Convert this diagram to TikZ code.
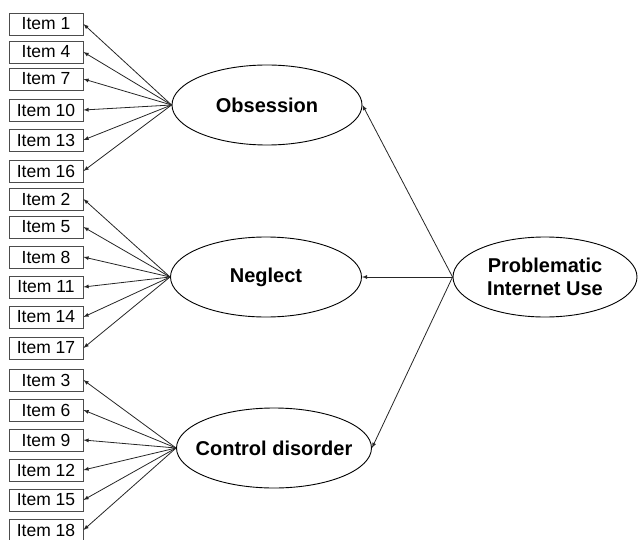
\documentclass[tikz,border=0pt]{standalone}
\usepackage{fontspec}
\setmainfont{Liberation Sans}
\usetikzlibrary{shapes.geometric}
\tikzset{>=latex}
\tikzset{
  item/.style={draw=black!70,line width=0.9pt,minimum width=74pt,minimum height=22pt,inner sep=0pt,font=\fontsize{17.5}{20}\selectfont},
  factor/.style={draw,ellipse,line width=0.9pt,minimum height=80pt,inner sep=0pt},
  flabel/.style={font=\fontsize{20}{23}\selectfont\bfseries,align=center,inner sep=0pt},
  load/.style={->,line width=0.8pt,black!85}
}

\begin{document}
\begin{tikzpicture}[x=1pt,y=-1pt]
            \draw[draw=none,use as bounding box] (0,0) rectangle (639,540);
            % first order factors
            \node[factor,minimum width=190pt] (obs) at (267,105) {};
            \node[flabel] (obs-t) at (obs) {Obsession};
            \node[factor,minimum width=191pt] (neg) at (266,277) {};
            \node[flabel] (neg-t) at (neg) {Neglect};
            \node[factor,minimum width=195pt] (ctl) at (274,448) {};
            \node[flabel] (ctl-t) at (ctl) {Control disorder};
            \node[factor,minimum width=184pt] (piu) at (545,277) {};
            \node[flabel] (piu-t) at (piu) {Problematic\\Internet Use};
            % items
            \foreach \n/\y in {1/24,4/52,7/79,10/110,13/140,16/171}{
                \node[item] (i\n) at (46,\y) {Item \n};
                \draw[load] (obs.west) -- (i\n.east);
            }
            \foreach \n/\y in {2/199,5/227,8/257,11/287,14/317,17/348}{
                \node[item] (i\n) at (46,\y) {Item \n};
                \draw[load] (neg.west) -- (i\n.east);
            }
            \foreach \n/\y in {3/380,6/410,9/440,12/470,15/500,18/530}{
                \node[item] (i\n) at (46,\y) {Item \n};
                \draw[load] (ctl.west) -- (i\n.east);
            }
            \foreach \f in {obs,neg,ctl}
                \draw[load] (piu.west) -- (\f.east);
        \end{tikzpicture}
\end{document}
